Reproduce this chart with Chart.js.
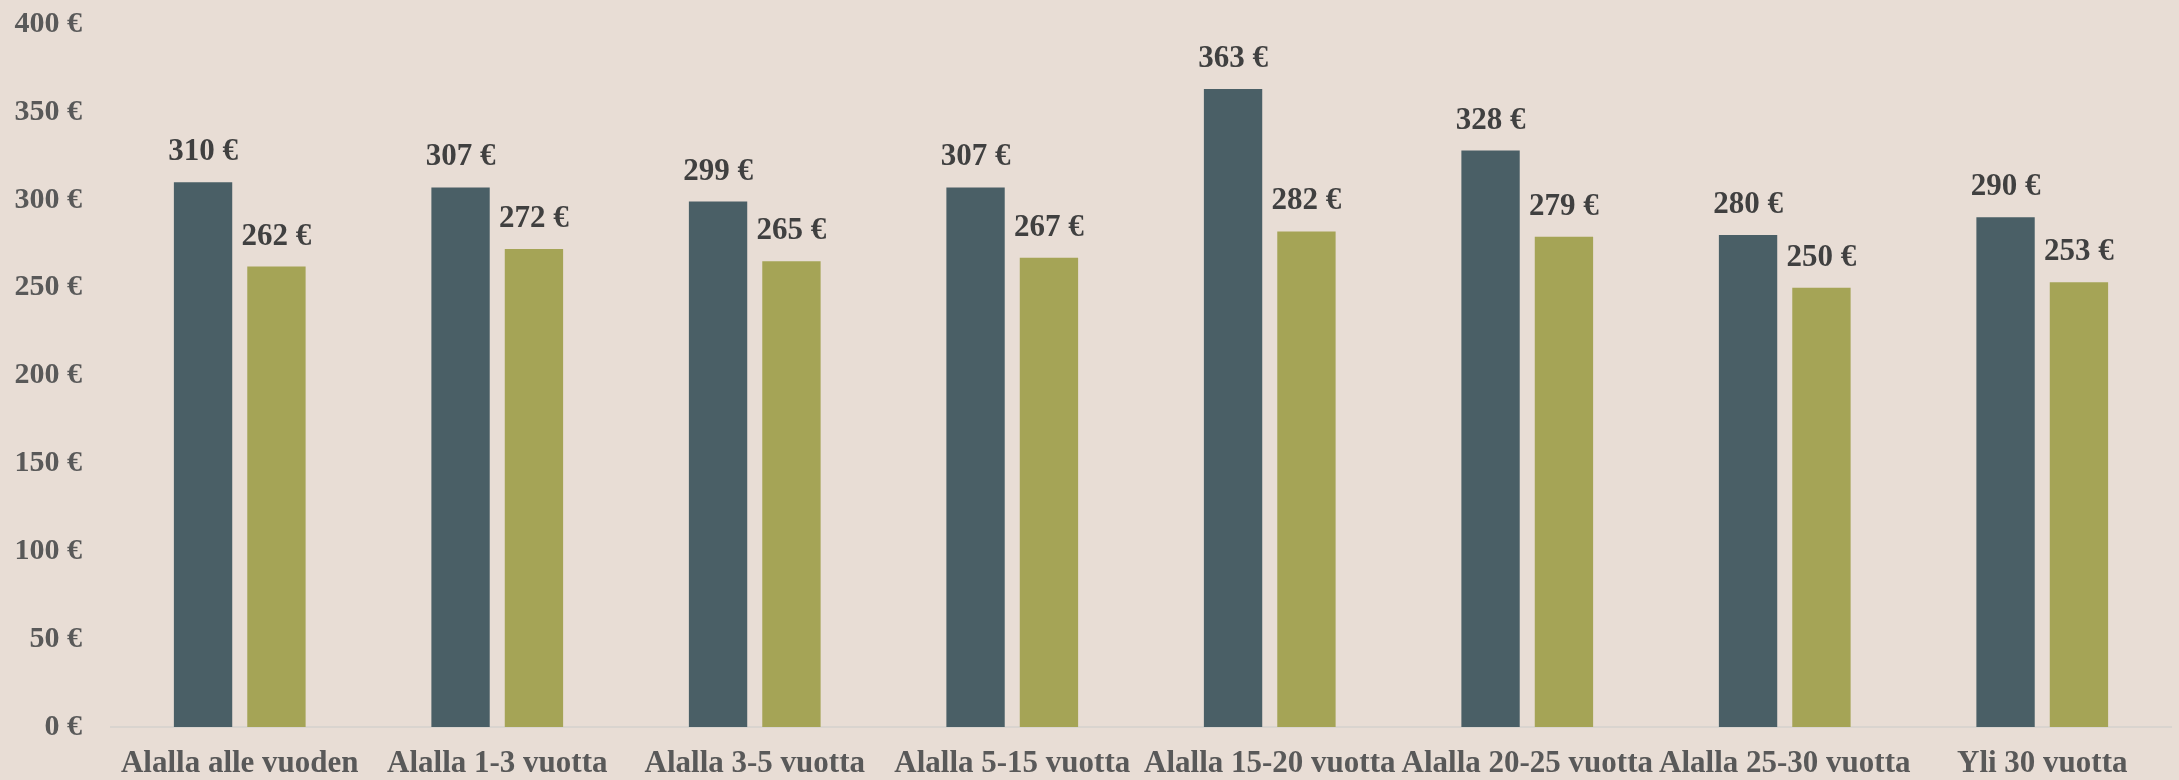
<!DOCTYPE html>
<html lang="fi">
  <head>
    <meta charset="UTF-8" />
    <title>Alalla vuotta</title>
    <script src="https://cdn.jsdelivr.net/npm/chart.js"></script>
    <style>
      html, body { margin: 0; padding: 0; background: #e8ddd5; }
      canvas { display: block; }
    </style>
  </head>
  <body>
    <canvas id="chart" width="2179" height="780"></canvas>
    <script>
      const categories = [
        'Alalla alle vuoden',
        'Alalla 1-3 vuotta',
        'Alalla 3-5 vuotta',
        'Alalla 5-15 vuotta',
        'Alalla 15-20 vuotta',
        'Alalla 20-25 vuotta',
        'Alalla 25-30 vuotta',
        'Yli 30 vuotta'
      ];
      const seriesA = [310, 307, 299, 307, 363, 328, 280, 290];
      const seriesB = [262, 272, 265, 267, 282, 279, 250, 253];

      const FONT = '"Liberation Serif", "Times New Roman", serif';
      const euro = (v) => v + ' €';

      // value labels above each bar
      const valueLabels = {
        id: 'valueLabels',
        afterDatasetsDraw(chart) {
          const ctx = chart.ctx;
          ctx.save();
          ctx.font = 'bold 31px ' + FONT;
          ctx.fillStyle = '#404040';
          ctx.textAlign = 'center';
          ctx.textBaseline = 'middle';
          chart.data.datasets.forEach((ds, i) => {
            chart.getDatasetMeta(i).data.forEach((bar, j) => {
              ctx.fillText(euro(ds.data[j]), bar.x, bar.y - 30);
            });
          });
          ctx.restore();
        }
      };

      new Chart(document.getElementById('chart'), {
        type: 'bar',
        data: {
          labels: categories,
          datasets: [
            { data: seriesA, backgroundColor: '#4a5f66' },
            { data: seriesB, backgroundColor: '#a5a456' }
          ]
        },
        options: {
          responsive: false,
          animation: false,
          layout: { padding: { top: 24, right: 8, left: 0, bottom: 0 } },
          datasets: {
            bar: { categoryPercentage: 0.57, barPercentage: 0.795 }
          },
          plugins: {
            legend: { display: false },
            tooltip: { enabled: false }
          },
          scales: {
            x: {
              grid: { display: false, drawTicks: false },
              border: { color: '#d9d4cf', width: 2 },
              ticks: {
                color: '#595959',
                font: { family: FONT, size: 31, weight: 'bold' },
                padding: 18,
                maxRotation: 0,
                autoSkip: false
              },
              afterFit(scale) { scale.height = 53; }
            },
            y: {
              min: 0,
              max: 400,
              grid: { display: false, drawTicks: false },
              border: { display: false },
              ticks: {
                stepSize: 50,
                color: '#595959',
                font: { family: FONT, size: 30, weight: 'bold' },
                padding: 29,
                callback: (v) => euro(v)
              },
              afterFit(scale) {
                scale.width = 111;
                scale.paddingTop = 0;
                scale.paddingBottom = 0;
              }
            }
          }
        },
        plugins: [valueLabels]
      });
    </script>
  </body>
</html>
